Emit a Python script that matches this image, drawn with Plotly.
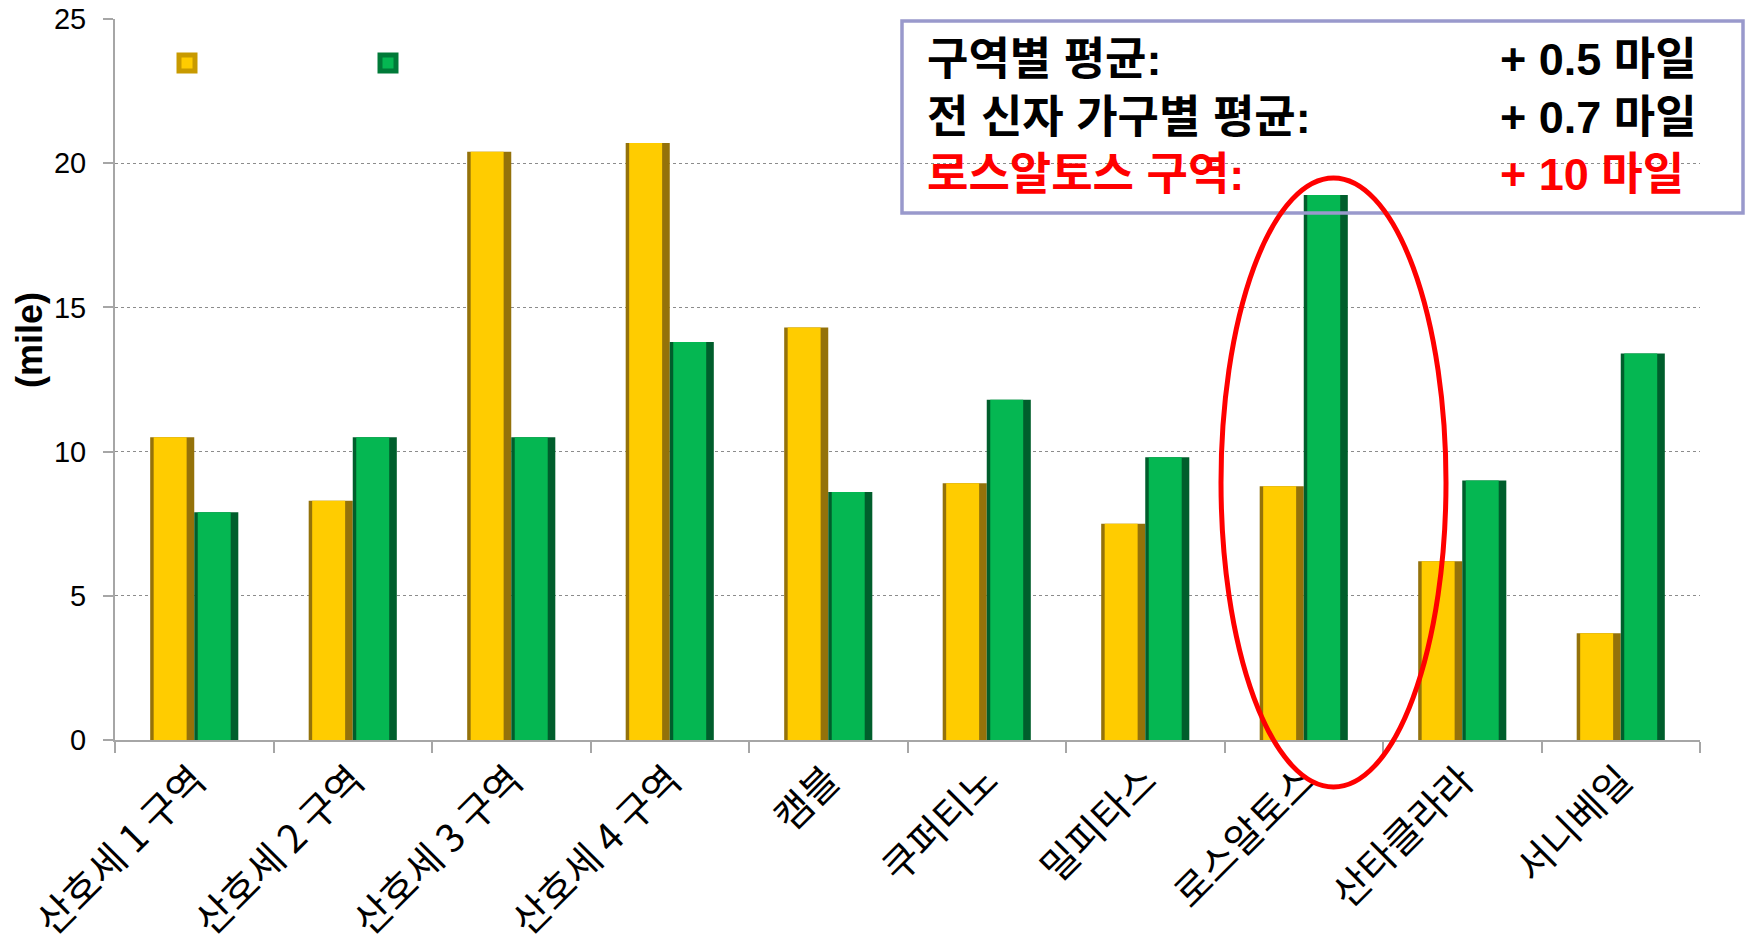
import plotly.graph_objects as go

categories = ["산호세 1 구역", "산호세 2 구역", "산호세 3 구역", "산호세 4 구역", "캠블",
              "쿠퍼티노", "밀피타스", "로스알토스", "산타클라라", "서니베일"]
series_yellow = [10.5, 8.3, 20.4, 20.7, 14.3, 8.9, 7.5, 8.8, 6.2, 3.7]
series_green = [7.9, 10.5, 10.5, 13.8, 8.6, 11.8, 9.8, 18.9, 9.0, 13.4]
y_ticks = [0, 5, 10, 15, 20, 25]

note_labels = ["구역별 평균:", "전 신자 가구별 평균:", "로스알토스 구역:"]
note_values = ["+ 0.5 마일", "+ 0.7 마일", "+ 10 마일"]
note_colors = ["#000000", "#000000", "#FF0000"]

W, H = 1747, 949
ML, MR, MT, MB = 115, 47, 19, 209
PW = W - ML - MR
PH = H - MT - MB


def px(xp):
    return (xp - ML) / PW


def py(yp):
    return (H - MB - yp) / PH


BW = 0.278
fig = go.Figure()
# yellow series: dark edge base + bright face
fig.add_bar(x=categories, y=series_yellow, width=BW, offset=-BW,
            marker=dict(color="#94720A", line=dict(width=0)), showlegend=False, hoverinfo="skip")
fig.add_bar(x=categories, y=series_yellow, width=BW - 0.07, offset=-BW + 0.022,
            marker=dict(color="#FFCC00", line=dict(width=0)), showlegend=False)
# green series
fig.add_bar(x=categories, y=series_green, width=BW, offset=0,
            marker=dict(color="#005E2C", line=dict(width=0)), showlegend=False, hoverinfo="skip")
fig.add_bar(x=categories, y=series_green, width=BW - 0.07, offset=0.022,
            marker=dict(color="#05B752", line=dict(width=0)), showlegend=False)

# legend entries (no text, as in the reference)
fig.add_scatter(x=[None], y=[None], mode="markers", name=" ",
                marker=dict(symbol="square", size=16, color="#FFCC00",
                            line=dict(color="#C89A00", width=5)))
fig.add_scatter(x=[None], y=[None], mode="markers", name="  ",
                marker=dict(symbol="square", size=16, color="#05B752",
                            line=dict(color="#007A38", width=5)))

fig.update_layout(
    width=W, height=H,
    margin=dict(l=ML, r=MR, t=MT, b=MB, autoexpand=False),
    paper_bgcolor="white", plot_bgcolor="white",
    barmode="overlay",
    font=dict(family="Liberation Sans, Noto Sans CJK KR, sans-serif", color="#000000"),
    legend=dict(orientation="h", x=px(167), y=py(63), xanchor="left", yanchor="middle",
                entrywidth=156, entrywidthmode="pixels", font=dict(size=20),
                bgcolor="rgba(0,0,0,0)"),
    xaxis=dict(type="category", tickson="boundaries", ticks="outside", ticklen=11,
               tickcolor="#A6A6A6", tickwidth=2, showline=True, linecolor="#A6A6A6",
               linewidth=2, tickangle=-45, showgrid=False, automargin=False,
               tickfont=dict(size=39, family="Noto Sans CJK KR, Liberation Sans", color="#000000"),
               range=[-0.5, len(categories) - 0.5]),
    yaxis=dict(range=[0, 25], tickvals=y_ticks, ticks="outside", ticklen=10,
               tickcolor="#A6A6A6", tickwidth=2, showline=True, linecolor="#A6A6A6",
               linewidth=2, showgrid=True, gridcolor="#8C8C8C", griddash="dot", gridwidth=1,
               tickfont=dict(size=29, family="Liberation Sans, Arial", color="#000000"),
               ticklabelstandoff=11, zeroline=False, automargin=False),
)

# y axis title
fig.add_annotation(text="<b>(mile)</b>", xref="paper", yref="paper", x=px(29), y=py(340),
                   textangle=-90, showarrow=False, xanchor="center", yanchor="middle",
                   font=dict(size=36, family="Liberation Sans, Arial", color="#000000"))

# note box
fig.add_shape(type="rect", xref="paper", yref="paper", x0=px(902), x1=px(1743),
              y0=py(213), y1=py(21), line=dict(color="#9999CC", width=3.5), layer="above")
row_y = [59.5, 117, 174.5]
for lab, val, col, yy in zip(note_labels, note_values, note_colors, row_y):
    fig.add_annotation(text=f"<b>{lab}</b>", xref="paper", yref="paper", x=px(925), y=py(yy),
                       xanchor="left", yanchor="middle", showarrow=False,
                       font=dict(size=45, color=col,
                                 family="Liberation Sans, Noto Sans CJK KR, sans-serif"))
    fig.add_annotation(text=f"<b>{val}</b>", xref="paper", yref="paper", x=px(1498), y=py(yy),
                       xanchor="left", yanchor="middle", showarrow=False,
                       font=dict(size=45, color=col,
                                 family="Liberation Sans, Noto Sans CJK KR, sans-serif"))

# red highlight ellipse
fig.add_shape(type="circle", xref="paper", yref="paper", x0=px(1221), x1=px(1446),
              y0=py(787), y1=py(178), line=dict(color="#FF0000", width=5), layer="above")

fig.write_html("out.html", config={"displayModeBar": False},
               post_script="document.body.style.margin='0';document.body.style.overflow='hidden';")
